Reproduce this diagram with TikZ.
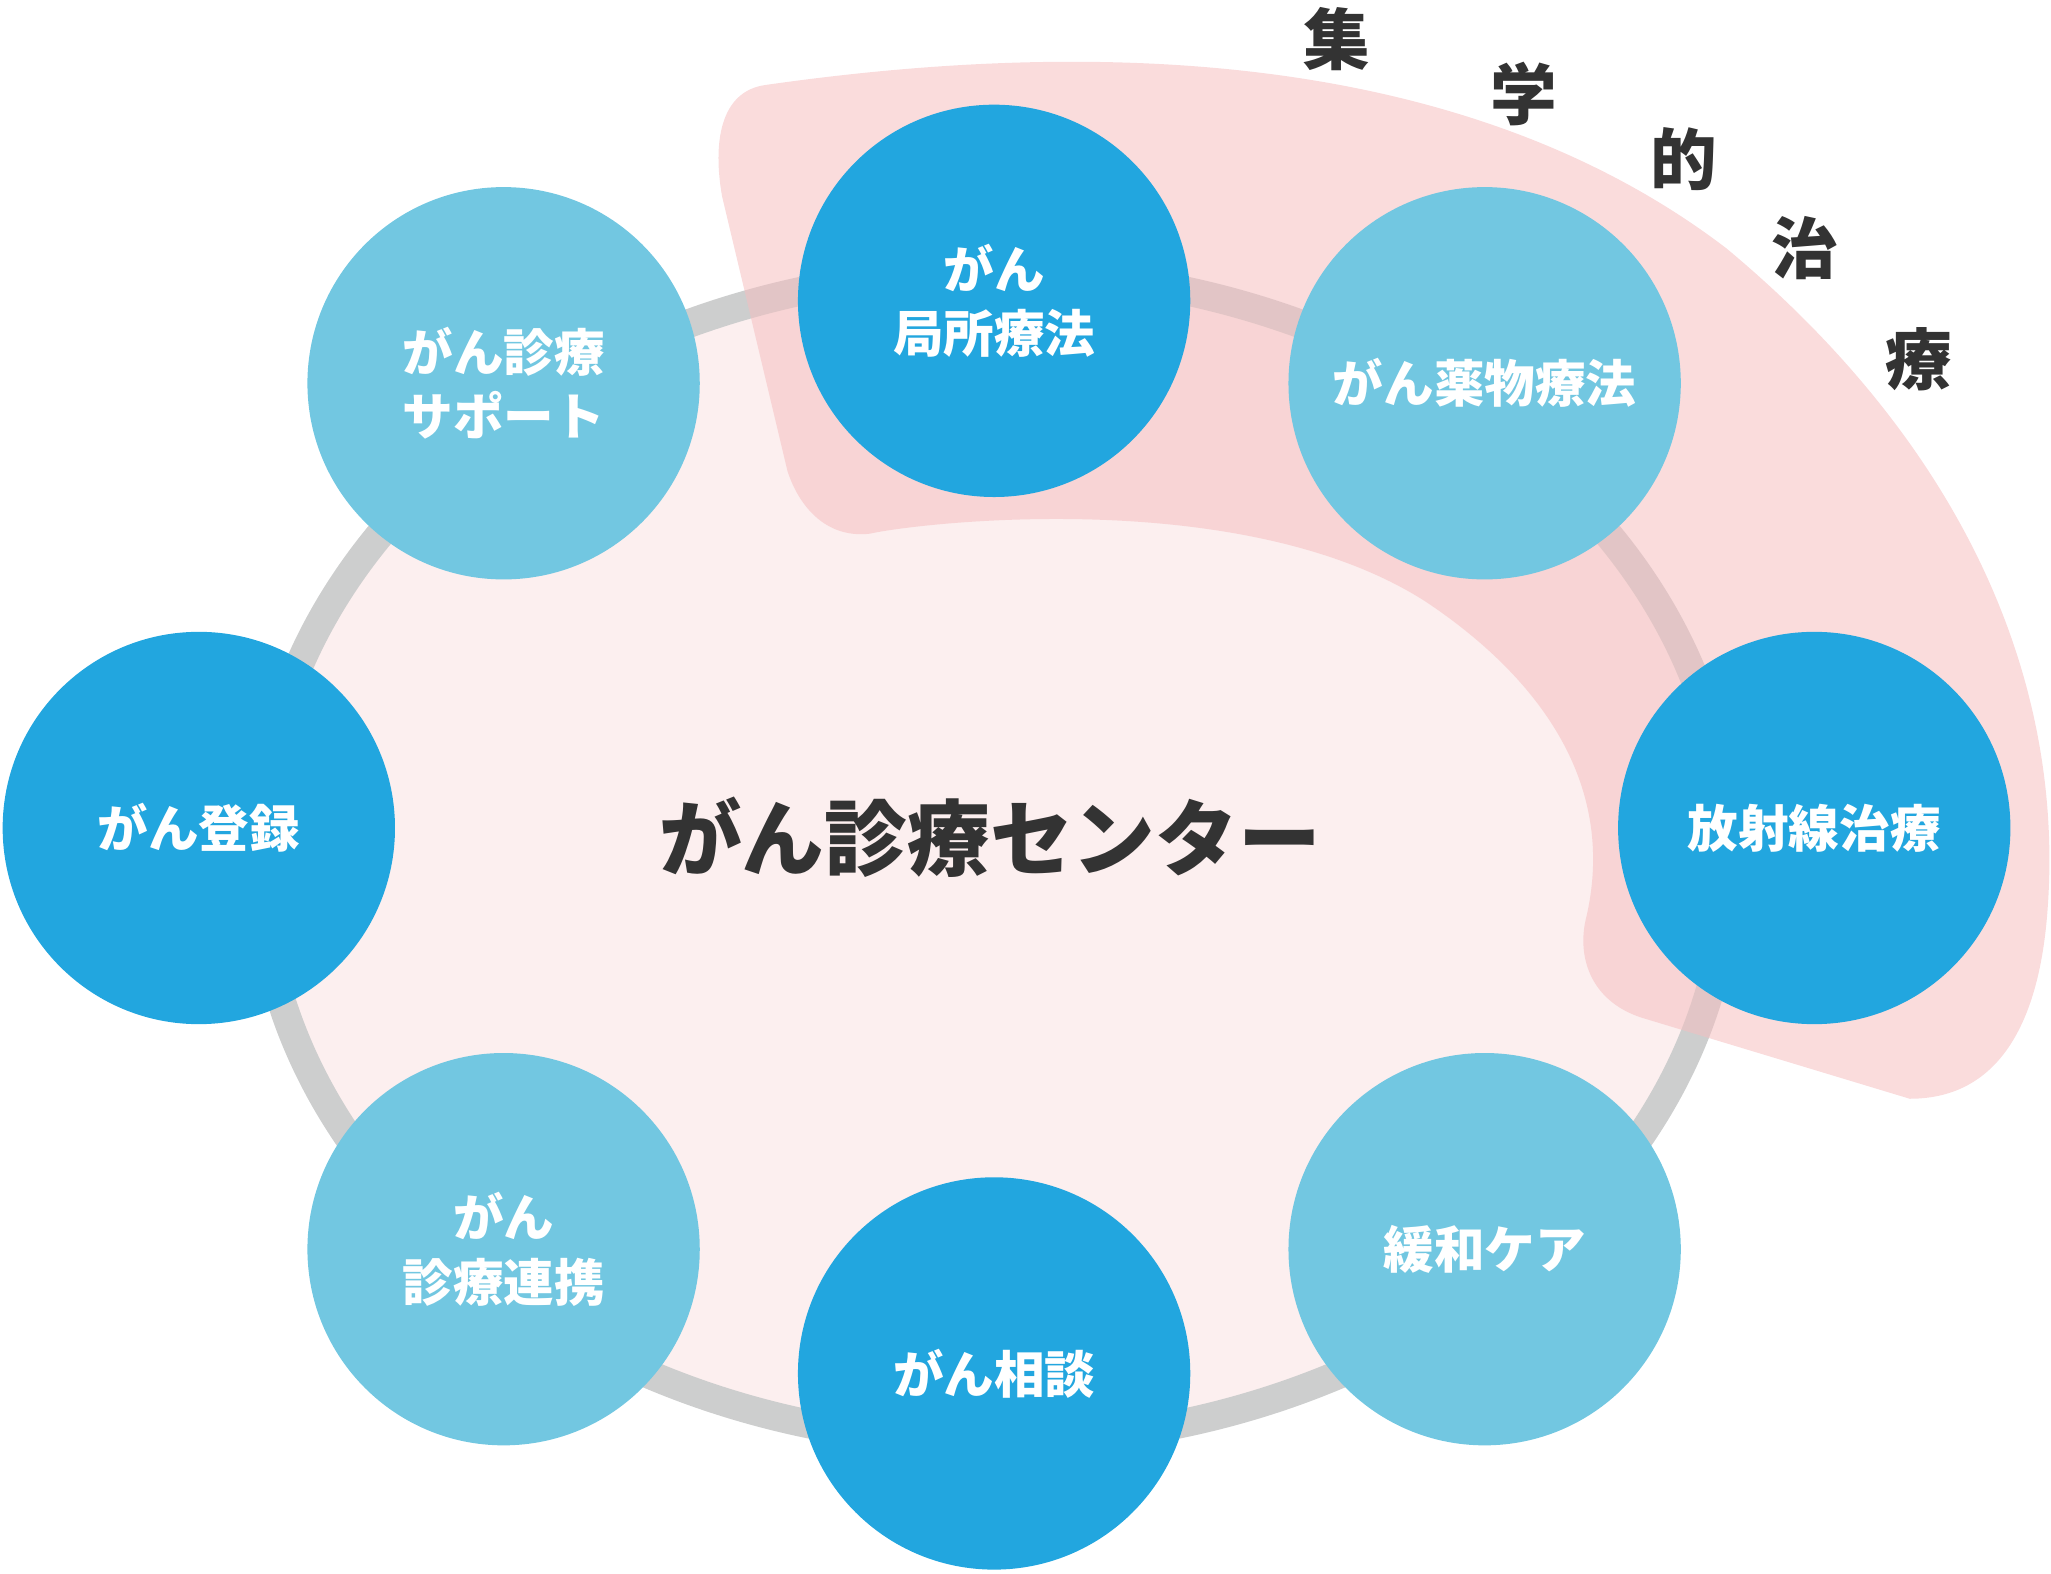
\documentclass[tikz,border=0pt]{standalone}
\usepackage{fontspec}
\setmainfont{Noto Sans CJK JP}
\newfontfamily\cjkb[BoldFont={Noto Sans CJK JP Bold}]{Noto Sans CJK JP}
\definecolor{dblue}{HTML}{22A6DF}
\definecolor{lblue}{HTML}{72C7E1}
\definecolor{ringg}{HTML}{CDCECE}
\definecolor{cfill}{HTML}{FCEFEF}
\definecolor{pinkr}{HTML}{F5BFC0}
\definecolor{txt}{HTML}{333333}
\begin{document}
\begin{tikzpicture}[x=0.02cm,y=-0.02cm,
  cnode/.style={circle,minimum size=6cm,inner sep=0pt,text=white,align=center,font=\fontsize{22}{28}\selectfont\bfseries},
  dk/.style={cnode,fill=dblue},
  lt/.style={cnode,fill=lblue},
  vch/.style={text=txt,font=\fontsize{29}{30}\selectfont\bfseries}]
\useasboundingbox (0,0) rectangle (1568,1203);
\draw[ringg,line width=22*0.567pt,fill=cfill] (760,655) ellipse [x radius=562,y radius=448];
\fill[pinkr,opacity=0.55] (585,65) .. controls (900,20) and (1150,60) .. (1320,190)
  .. controls (1500,340) and (1580,520) .. (1565,700)
  .. controls (1560,760) and (1540,840) .. (1460,840)
  -- (1255,778) .. controls (1215,765) and (1205,730) .. (1213,700)
  .. controls (1240,580) and (1150,500) .. (1090,460)
  .. controls (950,370) and (700,400) .. (665,408)
  .. controls (630,412) and (610,385) .. (602,360)
  -- (552,150) .. controls (545,110) and (550,70) .. (585,65) -- cycle;
\node[dk] (a) at (760,230) {がん\\局所療法};
\node[lt] (b) at (1135,293) {がん薬物療法};
\node[dk] (c) at (1387,633) {放射線治療};
\node[lt] (d) at (1135,955) {緩和ケア};
\node[dk] (e) at (760,1050) {がん相談};
\node[lt] (f) at (385,955) {がん\\診療連携};
\node[dk] (g) at (152,633) {がん登録};
\node[lt] (h) at (385,293) {がん診療\\サポート};
\node[text=txt,font=\fontsize{36}{40}\selectfont\bfseries] (m) at (757,640) {がん診療センター};
\node[vch] (v1) at (1022,30) {集};
\node[vch] (v2) at (1165,72) {学};
\node[vch] (v3) at (1287,122) {的};
\node[vch] (v4) at (1380,190) {治};
\node[vch] (v5) at (1467,275) {療};
\end{tikzpicture}
\end{document}
